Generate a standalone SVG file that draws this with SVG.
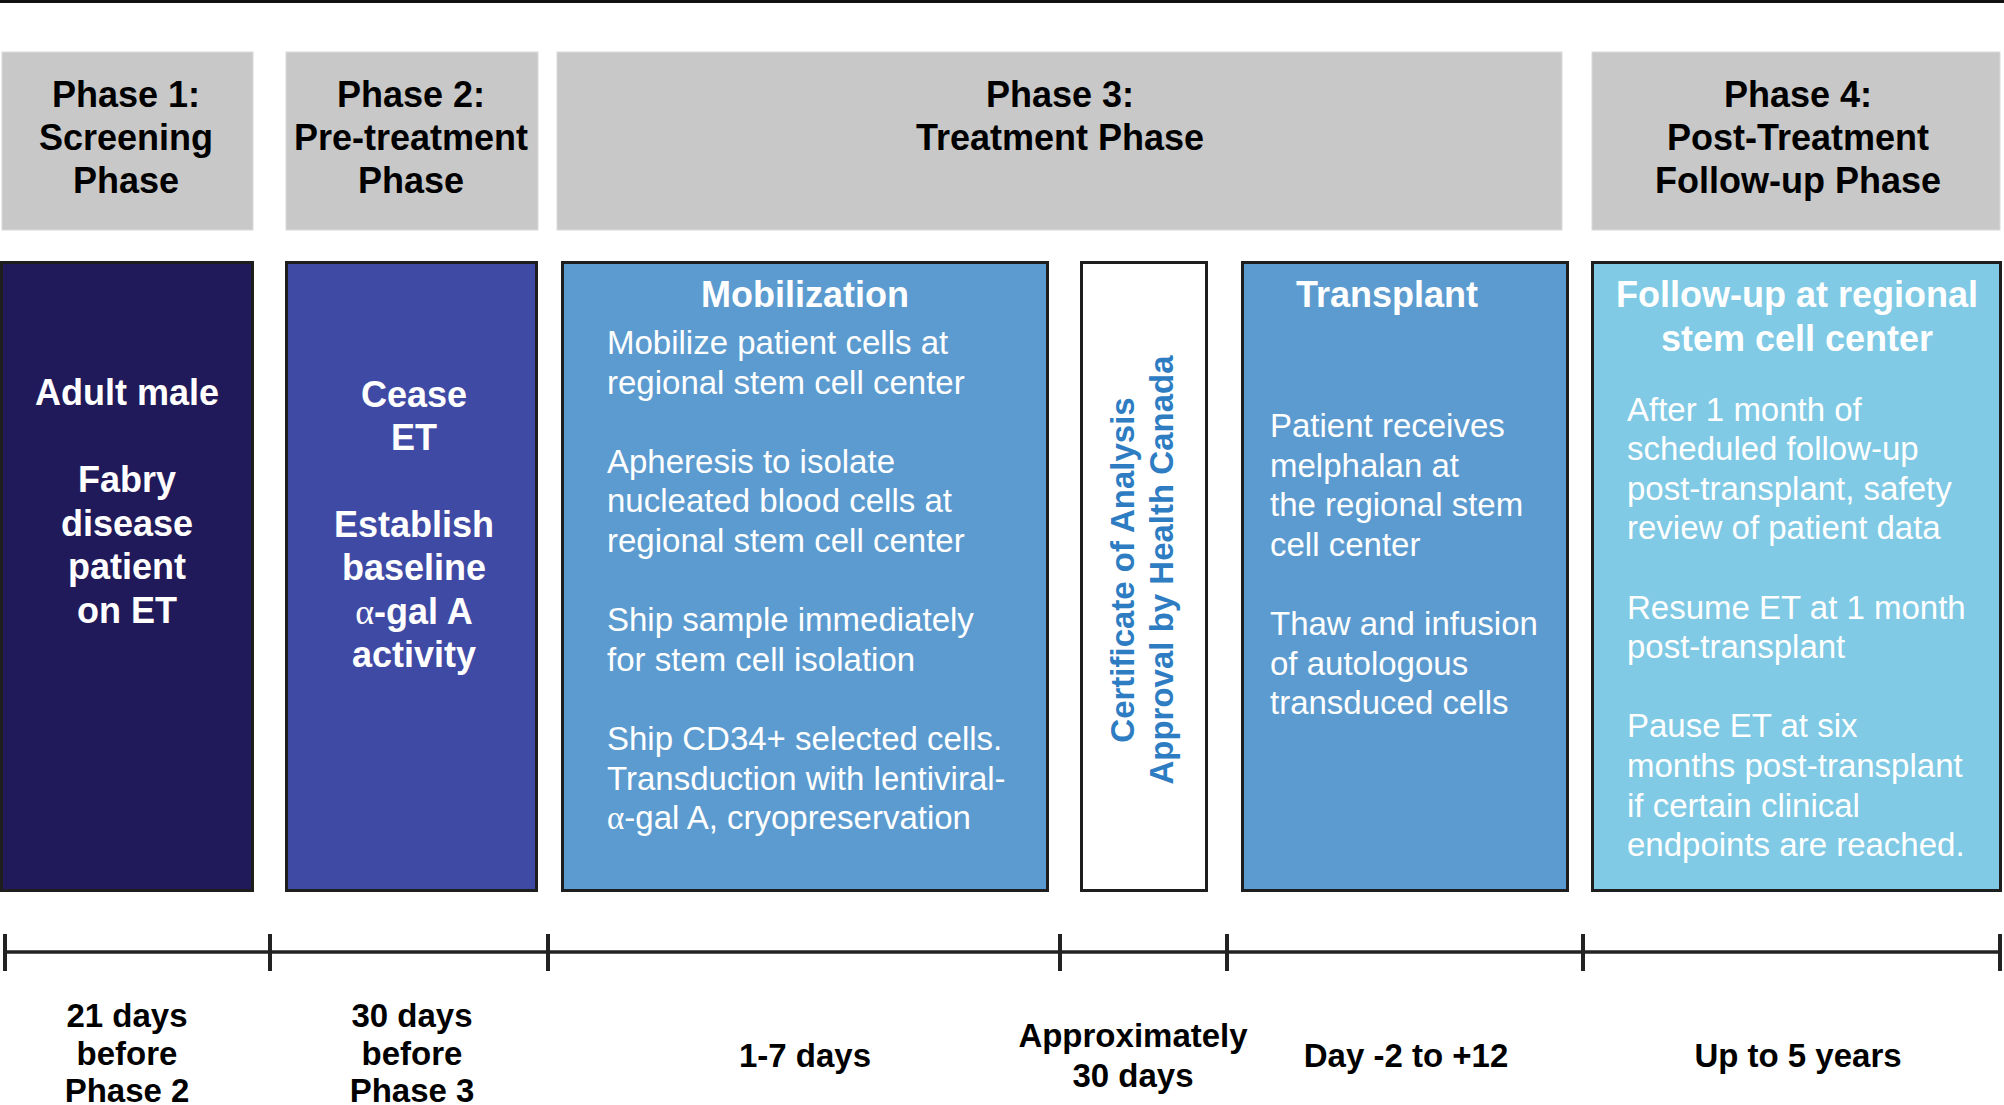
<svg xmlns="http://www.w3.org/2000/svg" width="2004" height="1105" viewBox="0 0 2004 1105">
<style>
.hdr{fill:#C7C8C7;stroke:#DADADA;stroke-width:1}
.ht{font-family:"Liberation Sans",Arial,sans-serif;font-weight:bold;font-size:36px;fill:#000;text-anchor:middle}
.box{stroke:#1E1E1E;stroke-width:3}
.bt{font-family:"Liberation Sans",Arial,sans-serif;font-weight:bold;font-size:36px;fill:#fff;text-anchor:middle}
.tx{font-family:"Liberation Sans",Arial,sans-serif;font-size:33px;fill:#fff}
.vt{font-family:"Liberation Sans",Arial,sans-serif;font-weight:bold;font-size:33px;fill:#2E7DC3;text-anchor:middle}
.tl{font-family:"Liberation Sans",Arial,sans-serif;font-weight:bold;font-size:33px;fill:#000;text-anchor:middle}
.al{font-family:"Liberation Serif","Times New Roman",serif;font-weight:normal}
.axis{stroke:#222;stroke-width:3.5;fill:none}
.tick{stroke:#222;stroke-width:4}
</style>
<rect x="0" y="0" width="2004" height="3" fill="#111"/>

<g id="phase1-header">
<rect class="hdr" x="2" y="52" width="251" height="178"/>
<text class="ht" x="126" y="107">Phase 1:</text>
<text class="ht" x="126" y="150">Screening</text>
<text class="ht" x="126" y="193">Phase</text>
</g>
<g id="phase2-header">
<rect class="hdr" x="286" y="52" width="252" height="178"/>
<text class="ht" x="411" y="107">Phase 2:</text>
<text class="ht" x="411" y="150">Pre-treatment</text>
<text class="ht" x="411" y="193">Phase</text>
</g>
<g id="phase3-header">
<rect class="hdr" x="557" y="52" width="1005" height="178"/>
<text class="ht" x="1060" y="107">Phase 3:</text>
<text class="ht" x="1060" y="150">Treatment Phase</text>
</g>
<g id="phase4-header">
<rect class="hdr" x="1592" y="52" width="408" height="178"/>
<text class="ht" x="1798" y="107">Phase 4:</text>
<text class="ht" x="1798" y="150">Post-Treatment</text>
<text class="ht" x="1798" y="193">Follow-up Phase</text>
</g>

<g id="screening">
<rect class="box" x="1.5" y="262.5" width="251" height="628" fill="#211A5A"/>
<text class="bt" x="127" y="405">Adult male</text>
<text class="bt" x="127" y="492">Fabry</text>
<text class="bt" x="127" y="535.5">disease</text>
<text class="bt" x="127" y="579">patient</text>
<text class="bt" x="127" y="622.5">on ET</text>
</g>

<g id="pretreatment">
<rect class="box" x="286.5" y="262.5" width="250" height="628" fill="#3F4AA5"/>
<text class="bt" x="414" y="407">Cease</text>
<text class="bt" x="414" y="450">ET</text>
<text class="bt" x="414" y="537">Establish</text>
<text class="bt" x="414" y="580">baseline</text>
<text class="bt" x="414" y="624"><tspan class="al">α</tspan>-gal A</text>
<text class="bt" x="414" y="667">activity</text>
</g>

<g id="mobilization">
<rect class="box" x="562.5" y="262.5" width="485" height="628" fill="#5C9BCF"/>
<text class="bt" x="805" y="307">Mobilization</text>
<text class="tx" x="607" y="354">Mobilize patient cells at</text>
<text class="tx" x="607" y="393.6">regional stem cell center</text>
<text class="tx" x="607" y="472.8">Apheresis to isolate</text>
<text class="tx" x="607" y="512.4">nucleated blood cells at</text>
<text class="tx" x="607" y="552">regional stem cell center</text>
<text class="tx" x="607" y="631.2">Ship sample immediately</text>
<text class="tx" x="607" y="670.8">for stem cell isolation</text>
<text class="tx" x="607" y="750">Ship CD34+ selected cells.</text>
<text class="tx" x="607" y="789.6">Transduction with lentiviral-</text>
<text class="tx" x="607" y="829.2"><tspan class="al">α</tspan>-gal A, cryopreservation</text>
</g>

<g id="certificate">
<rect class="box" x="1081.5" y="262.5" width="125" height="628" fill="#fff"/>
<text class="vt" transform="translate(1134 570) rotate(-90)">Certificate of Analysis</text>
<text class="vt" transform="translate(1172.5 570) rotate(-90)">Approval by Health Canada</text>
</g>

<g id="transplant">
<rect class="box" x="1242.5" y="262.5" width="325" height="628" fill="#5C9BCF"/>
<text class="bt" x="1387" y="307">Transplant</text>
<text class="tx" x="1270" y="437">Patient receives</text>
<text class="tx" x="1270" y="476.6">melphalan at</text>
<text class="tx" x="1270" y="516.2">the regional stem</text>
<text class="tx" x="1270" y="555.8">cell center</text>
<text class="tx" x="1270" y="635">Thaw and infusion</text>
<text class="tx" x="1270" y="674.6">of autologous</text>
<text class="tx" x="1270" y="714.2">transduced cells</text>
</g>

<g id="followup">
<rect class="box" x="1592.5" y="262.5" width="408" height="628" fill="#80CAE5"/>
<text class="bt" x="1797" y="307">Follow-up at regional</text>
<text class="bt" x="1797" y="350.5">stem cell center</text>
<text class="tx" x="1627" y="420.5">After 1 month of</text>
<text class="tx" x="1627" y="460.1">scheduled follow-up</text>
<text class="tx" x="1627" y="499.7">post-transplant, safety</text>
<text class="tx" x="1627" y="539.3">review of patient data</text>
<text class="tx" x="1627" y="618.5">Resume ET at 1 month</text>
<text class="tx" x="1627" y="658.1">post-transplant</text>
<text class="tx" x="1627" y="737.3">Pause ET at six</text>
<text class="tx" x="1627" y="776.9">months post-transplant</text>
<text class="tx" x="1627" y="816.5">if certain clinical</text>
<text class="tx" x="1627" y="856.1">endpoints are reached.</text>
</g>

<g id="timeline">
<line class="axis" x1="5" y1="952" x2="2000" y2="952"/>
<line class="tick" x1="5" y1="934" x2="5" y2="971"/>
<line class="tick" x1="270" y1="934" x2="270" y2="971"/>
<line class="tick" x1="548" y1="934" x2="548" y2="971"/>
<line class="tick" x1="1060" y1="934" x2="1060" y2="971"/>
<line class="tick" x1="1227" y1="934" x2="1227" y2="971"/>
<line class="tick" x1="1583" y1="934" x2="1583" y2="971"/>
<line class="tick" x1="2000" y1="934" x2="2000" y2="971"/>
</g>

<g id="durations">
<text class="tl" x="127" y="1027">21 days</text>
<text class="tl" x="127" y="1065">before</text>
<text class="tl" x="127" y="1102">Phase 2</text>
<text class="tl" x="412" y="1027">30 days</text>
<text class="tl" x="412" y="1065">before</text>
<text class="tl" x="412" y="1102">Phase 3</text>
<text class="tl" x="805" y="1066.5">1-7 days</text>
<text class="tl" x="1133" y="1047">Approximately</text>
<text class="tl" x="1133" y="1087">30 days</text>
<text class="tl" x="1406" y="1066.5">Day -2 to +12</text>
<text class="tl" x="1798" y="1066.5">Up to 5 years</text>
</g>
</svg>
